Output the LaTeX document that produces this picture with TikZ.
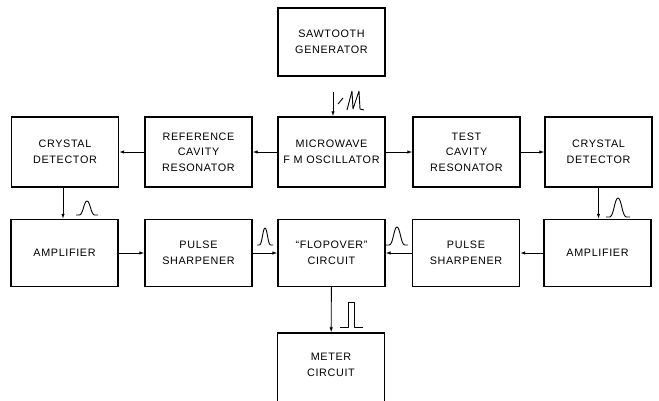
\documentclass[tikz,border=0pt]{standalone}
\usepackage{fontspec}
\setsansfont[LetterSpace=6]{Liberation Sans}
\usetikzlibrary{positioning,arrows.meta}

\tikzset{
  blk/.style={draw, line width=1.4pt, minimum width=107pt, minimum height=68pt,
    align=center, font=\sffamily\fontsize{10.8}{15.5}\selectfont},
  link/.style={line width=0.9pt, -{Latex[length=5pt,width=3.5pt]}},
  wave/.style={line width=0.9pt, line join=round}
}

\begin{document}
\begin{tikzpicture}[x=1pt, y=-1pt]
      \useasboundingbox (0,0) rectangle (659,400);
      \clip (0,0) rectangle (659,400);
      % top source
      \node[blk] (saw) at (331.5,42) {SAWTOOTH\\GENERATOR};
      % first row
      \node[blk, minimum height=70pt] (crysL) at (65,152) {CRYSTAL\\DETECTOR};
      \node[blk, minimum height=70pt] (refcav) at (198.5,152) {REFERENCE\\CAVITY\\RESONATOR};
      \node[blk, minimum height=70pt] (micro) at (331.5,152) {MICROWAVE\\F M OSCILLATOR};
      \node[blk, minimum height=70pt] (testcav) at (466.5,152) {TEST\\CAVITY\\RESONATOR};
      \node[blk, minimum height=70pt] (crysR) at (598.5,152) {CRYSTAL\\DETECTOR};
      % second row
      \node[blk, minimum height=67pt] (ampL) at (64.5,253) {AMPLIFIER};
      \node[blk, minimum height=67pt] (sharpL) at (198.5,253) {PULSE\\SHARPENER};
      \node[blk, minimum height=67pt] (flop) at (331.5,253) {``FLOPOVER''\\CIRCUIT};
      \node[blk, minimum height=67pt] (sharpR) at (466,253) {PULSE\\SHARPENER};
      \node[blk, minimum height=67pt] (ampR) at (597.5,253) {AMPLIFIER};
      % output
      \node[blk, minimum height=80pt, text depth=16pt] (meter) at (331,373) {METER\\CIRCUIT};
      \coordinate (sawin) at (333,92);

      \draw[link] (sawin) -- (micro.north -| sawin);
      \draw[link] (micro) -- (refcav);
      \draw[link] (refcav) -- (crysL);
      \draw[link] (micro) -- (testcav);
      \draw[link] (testcav) -- (crysR);
      \draw[link] ([xshift=-2pt]crysL.south) -- ([xshift=-2pt]crysL.south |- ampL.north);
      \draw[link] (crysR.south) -- (crysR.south |- ampR.north);
      \draw[link] (ampL) -- (sharpL);
      \draw[link] (sharpL) -- (flop);
      \draw[link] (ampR) -- (sharpR);
      \draw[link] (sharpR) -- (flop);
      \draw[link] (flop) -- (meter);

      % waveforms
      \foreach \px/\py/\pw/\ph in {76/215/22/14, 606/217/24/19, 257/245/16/17, 386/245/22/18} {
        \draw[wave, shift={(\px,\py)}, xscale=\pw, yscale=\ph]
          (0,0) -- (0.15,0) .. controls (0.32,0) and (0.36,-1) .. (0.5,-1)
          .. controls (0.64,-1) and (0.68,0) .. (0.85,0) -- (1,0);
      }
      \draw[wave] (340,327) -- (348,327) -- (348,302) -- (354,302) -- (354,327) -- (363,327);
      \draw[wave] (338,104) -- (343,98);
      \draw[wave] (347,110) -- (352,91) -- (353,109) -- (359,91) -- (360,109) -- (364,110);
      \end{tikzpicture}
\end{document}
